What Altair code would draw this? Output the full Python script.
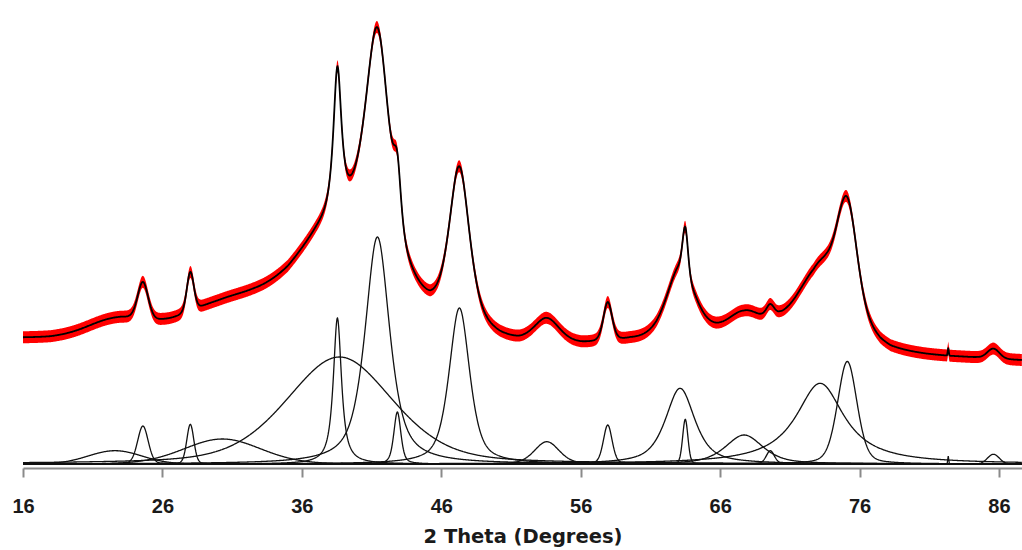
import altair as alt
import numpy as np
import pandas as pd

# ---- fitted peak components
# centre (deg 2-theta), height (px-scaled counts), FWHM (deg), Lorentzian fraction
peak_center = [22.6, 24.6, 28.0, 30.3, 38.7, 38.55, 41.42, 42.85, 47.3, 53.57, 57.94, 63.13, 63.5, 67.72, 69.6, 73.17, 75.12, 82.36, 85.6]
peak_height = [13.3, 38, 39.7, 25, 107, 146, 227, 52, 156, 22.3, 39, 75.7, 44.7, 29, 13.3, 80.7, 102.5, 8, 9.7]
peak_fwhm = [4.5, 0.9, 0.6, 6.5, 9.0, 0.7, 2.1, 0.6, 1.75, 2.1, 0.75, 2.5, 0.45, 3.2, 0.7, 4.2, 1.65, 0.08, 1.0]
peak_eta = [0.0, 0.2, 0.2, 0.1, 0.35, 0.9, 0.7, 0.5, 0.6, 0.3, 0.3, 0.7, 0.2, 0.6, 0.3, 1.0, 0.3, 0.0, 0.0]

bg_x = [16, 18, 20, 23, 26, 30, 32.5, 35, 37, 39.6, 42.3, 45.2, 47, 48.5, 50.2, 51.65, 53.45, 56, 59.55, 61.46,
        64.3, 65.76, 67.67, 69.7, 70.3, 71.74, 72.69, 73.6, 74.5, 75.6, 76.5, 77.5, 78.2, 80.8, 84.4, 87.65]
bg_y = [124.6, 124.6, 126, 128.8, 128.2, 123.5, 122.5, 120, 124, 123, 122, 117, 122, 120, 115.5, 114.1, 115.5, 113.6, 115, 112,
        115, 111.5, 108.5, 110.5, 113, 113, 111, 116, 120, 118, 113, 106, 103.5, 103, 103, 101.5]

x_min, x_max = 16.0, 87.65
tick_values = [16, 26, 36, 46, 56, 66, 76, 86]
noise_half = 6  # half-height of the red measured-data band


def profile(x, c, h, w, eta):
    d = 2.0 * (x - c) / w
    return h * (eta / (1 + d * d) + (1 - eta) * np.exp(-np.log(2) * d * d))


xs = np.unique(np.round(np.concatenate([np.arange(x_min, x_max + 0.001, 0.04), peak_center]), 3))
comps = [profile(xs, c, h, w, e) for c, h, w, e in zip(peak_center, peak_height, peak_fwhm, peak_eta)]
total = np.interp(xs, bg_x, bg_y) + np.sum(comps, axis=0)

df_total = pd.DataFrame({"x": xs, "y": np.round(total, 2),
                         "lo": np.round(total - noise_half, 2), "hi": np.round(total + noise_half, 2)})
df_comp = pd.concat([pd.DataFrame({"x": xs, "y": np.round(cv, 2), "k": i}) for i, cv in enumerate(comps)])

xscale = alt.Scale(domain=[x_min, x_max], nice=False, zero=False)
yscale = alt.Scale(domain=[-4, 464], nice=False, zero=False)

xaxis = alt.Axis(values=tick_values, title="2 Theta (Degrees)", grid=False,
                 domainColor="#8a8a8a", domainWidth=2, tickColor="#8a8a8a", tickWidth=2, tickSize=9,
                 labelFont="Liberation Sans", labelFontSize=20, labelFontWeight="bold", labelColor="#1a1a1a",
                 labelBaseline="alphabetic", labelPadding=35, labelFlush=False,
                 titleFont="DejaVu Sans", titleFontSize=19.5, titleFontWeight="bold", titleColor="#1a1a1a",
                 titleBaseline="alphabetic", titleY=74)

band = alt.Chart(df_total).mark_area(color="#ff0000", clip=True).encode(
    x=alt.X("x:Q", scale=xscale, axis=xaxis),
    y=alt.Y("lo:Q", scale=yscale, axis=None),
    y2="hi:Q",
)
line = alt.Chart(df_total).mark_line(color="#000000", strokeWidth=1.8, clip=True).encode(
    x=alt.X("x:Q", scale=xscale), y=alt.Y("y:Q", scale=yscale))
comp = alt.Chart(df_comp).mark_line(color="#111111", strokeWidth=1.3, clip=True).encode(
    x=alt.X("x:Q", scale=xscale), y=alt.Y("y:Q", scale=yscale), detail="k:N")

chart = alt.layer(band, line, comp).properties(
    width=999, height=468,
    autosize=alt.AutoSizeParams(type="none"),
    padding={"left": 23, "right": 0, "top": 0, "bottom": 82},
).configure_view(stroke=None)

chart.save("out.html", embed_options={"renderer": "svg", "actions": False})
